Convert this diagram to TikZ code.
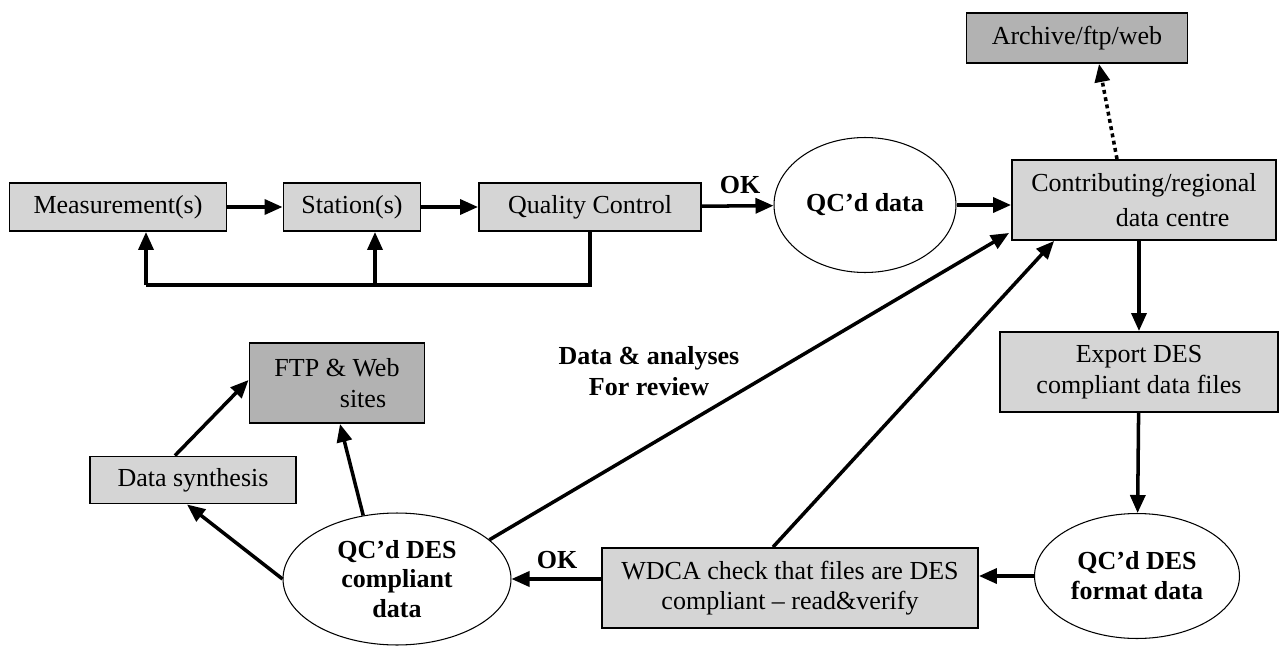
\documentclass[tikz,border=0pt]{standalone}
\usepackage{fontspec}
\setmainfont{Liberation Serif}
\usetikzlibrary{shapes.geometric,arrows.meta,calc}

\begin{document}
\begin{tikzpicture}[x=0.02cm, y=-0.02cm,
    every node/.style = {font=\fontsize{14.8}{17}\selectfont},
    procbox/.style = {draw, line width=1.1pt, fill=gray!33, align=center, inner sep=0pt},
    darkbox/.style = {procbox, fill=gray!60},
    dataell/.style = {ellipse, draw, line width=0.6pt, fill=white, align=center, inner sep=0pt,
                      font=\fontsize{14.8}{17}\selectfont\bfseries},
    arr/.style     = {line width=2pt, -{Triangle[length=0.36cm, width=0.3cm]}},
    lbl/.style     = {font=\fontsize{14.8}{17}\selectfont\bfseries, align=center}]
      \useasboundingbox (0,0) rectangle (1279,646);

      % top row
      \node[procbox, minimum width=4.34cm, minimum height=0.96cm] (meas) at (118,207) {Measurement(s)};
      \node[procbox, minimum width=2.74cm, minimum height=0.96cm] (stat) at (352,207) {Station(s)};
      \node[procbox, minimum width=4.44cm, minimum height=0.96cm] (qc)   at (590,207) {Quality Control};
      \node[dataell, minimum width=3.64cm, minimum height=2.7cm]  (qcd)  at (865,205) {QC’d data};
      \node[procbox, minimum width=5.28cm, minimum height=1.6cm]  (contrib) at (1144,200)
           {Contributing/regional\\[3pt]\hspace*{2.2em}data centre};
      \node[darkbox, minimum width=4.42cm, minimum height=1.0cm]  (archive) at (1077,38) {Archive/ftp/web};

      % right column and bottom row
      \node[procbox, minimum width=5.56cm, minimum height=1.6cm]  (export) at (1139,372)
           {Export DES\\[1pt]compliant data files};
      \node[dataell, minimum width=4.1cm, minimum height=2.5cm]   (fmt)  at (1137,576) {QC’d DES\\format data};
      \node[procbox, minimum width=7.52cm, minimum height=1.6cm]  (wdca) at (790,588)
           {WDCA check that files are DES\\compliant – read\&verify};
      \node[dataell, minimum width=4.56cm, minimum height=2.64cm] (comp) at (397,579)
           {QC’d DES\\compliant\\data};
      \node[procbox, minimum width=4.12cm, minimum height=0.94cm] (synth) at (193,480) {Data synthesis};
      \node[darkbox, minimum width=3.5cm, minimum height=1.6cm]   (ftp)  at (337,383)
           {FTP \& Web\\[1pt]\hspace*{2.0em}sites};

      % labels
      \node[lbl] (ok1) at (740,185) {OK};
      \node[lbl] (ok2) at (557,560) {OK};
      \node[lbl] (review) at (649,371) {Data \& analyses\\[1pt]For review};

      % flow
      \draw[arr] (meas) -- (stat);
      \draw[arr] (stat) -- (qc);
      \draw[arr] (qc) -- (qcd);
      \draw[arr] (qcd.east) -- (qcd.east -| contrib.west);
      \coordinate (fbm) at (146,285);
      \coordinate (fbs) at (375,285);
      \draw[line width=2pt] (qc.south) |- (fbm);
      \draw[arr] (fbm) -- (fbm |- meas.south);
      \draw[arr] (fbs) -- (fbs |- stat.south);
      \draw[arr, dash pattern=on 2.2pt off 2pt] ($(contrib.north)+(-27,0)$) -- ($(archive.south)+(22,0)$);
      \draw[arr] (export.north |- contrib.south) -- (export.north);
      \draw[arr] (export) -- (fmt);
      \draw[arr] (fmt.west) -- (fmt.west -| wdca.east);
      \draw[arr] (wdca.west |- comp.east) -- (comp.east);
      \draw[arr] ($(wdca.north)+(-17,0)$) -- ($(contrib.south west)+(43,0)$);
      \draw[arr] (comp.23) -- ($(contrib.south west)+(-2,-8)$);
      \draw[arr] (comp.west) -- ($(synth.south)+(-6,0)$);
      \draw[arr] (comp.118) -- ($(ftp.south)+(3,0)$);
      \draw[arr] ($(synth.north)+(-18,0)$) -- ($(ftp.west)+(0,-3)$);
    \end{tikzpicture}
\end{document}
